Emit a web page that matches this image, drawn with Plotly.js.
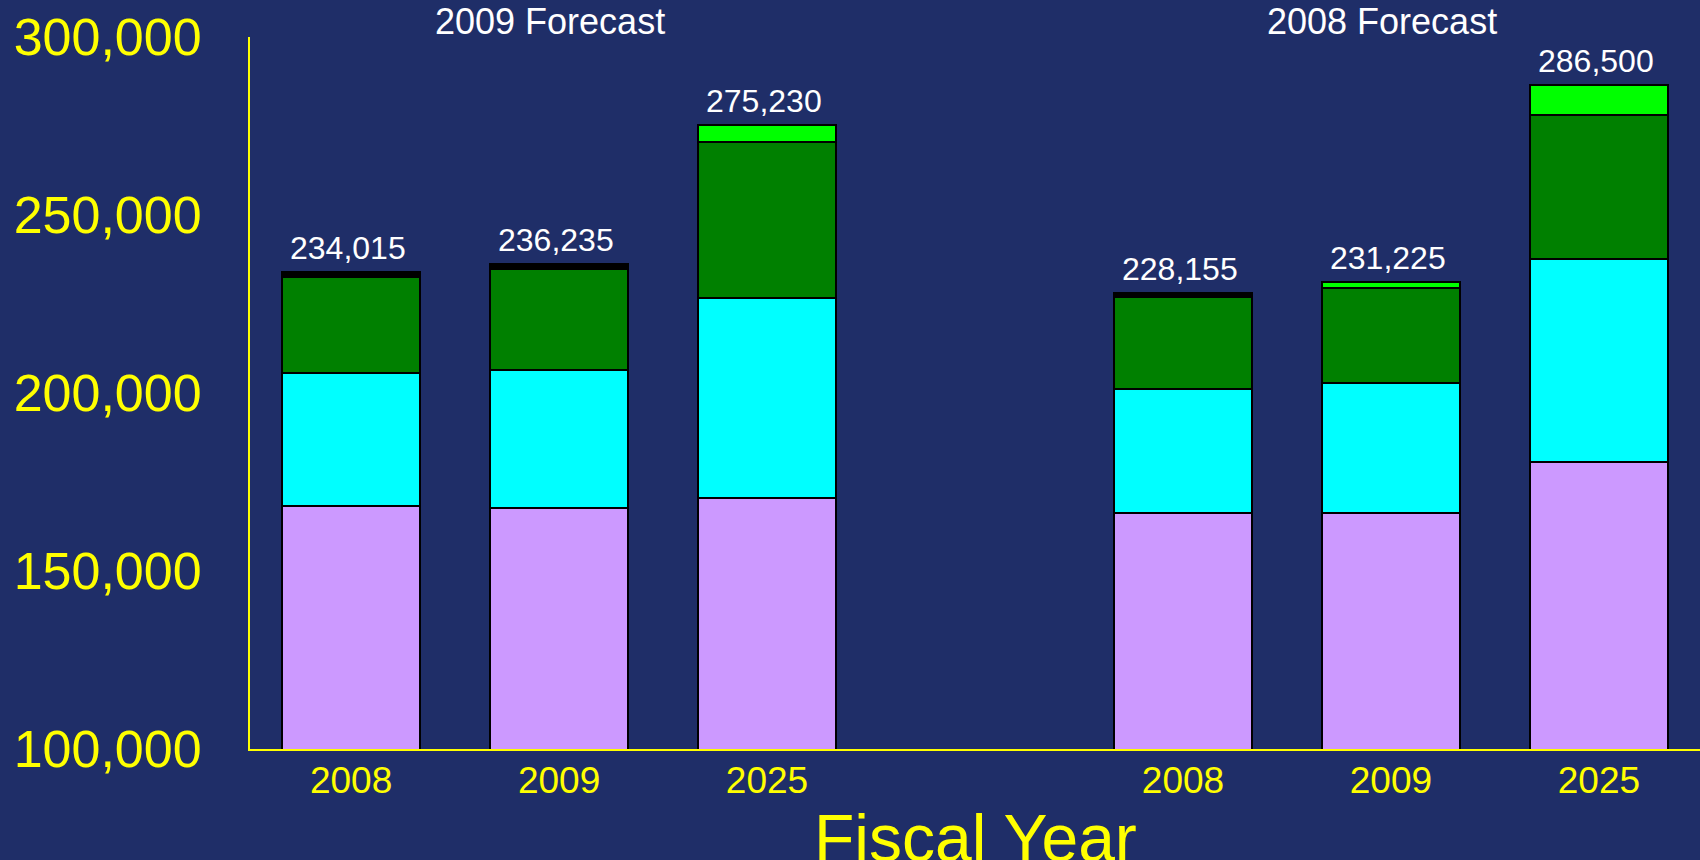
<!DOCTYPE html>
<html>
<head>
<meta charset="utf-8">
<script src="https://cdn.plot.ly/plotly-3.0.1.min.js"></script>
<style>
  html, body { margin: 0; padding: 0; background: #1f2e68; }
  #chart { width: 1700px; height: 860px; }
</style>
</head>
<body>
<div id="chart"></div>
<script>
// ---- data ----
const groups = ['2009 Forecast', '2008 Forecast'];
const years = ['2008', '2009', '2025'];
// stacked segments, in order group 1 (2008, 2009, 2025), group 2 (2008, 2009, 2025)
const segLavender = [168300, 167700, 170400, 166400, 166400, 180700];
const segCyan     = [37300, 38700, 56200, 34600, 36500, 57000];
const segGreen    = [26900, 28300, 43900, 25900, 26600, 40500];
const segTop      = [1515, 1535, 4730, 1255, 1725, 8300];
const totals      = [234015, 236235, 275230, 228155, 231225, 286500];
const yTicks = [100000, 150000, 200000, 250000, 300000];
const xTitle = 'Fiscal Year';

// ---- positions derived from group/year indices ----
const xPos = [];
const xText = [];
groups.forEach((g, gi) => {
  years.forEach((y, yi) => {
    xPos.push(gi * (years.length + 1) + yi);
    xText.push(y);
  });
});
const groupCenters = groups.map((g, gi) => gi * (years.length + 1) + (years.length - 1) / 2);

const FONT = 'Liberation Sans, Arial, sans-serif';
const line = { color: '#000000', width: 2 };

function barTrace(vals, color, name) {
  return { type: 'bar', x: xPos, y: vals, name: name,
           marker: { color: color, line: line }, hoverinfo: 'y' };
}

const topColors = [ '#000000', '#000000', '#00ff00', '#000000', '#00ff00', '#00ff00' ];

const data = [
  barTrace(segLavender, '#cc99ff', 'A'),
  barTrace(segCyan, '#00ffff', 'B'),
  barTrace(segGreen, '#008000', 'C'),
  barTrace(segTop, topColors, 'D')
];

const annotations = [];
totals.forEach((t, i) => {
  annotations.push({
    x: xPos[i], y: t, xref: 'x', yref: 'y',
    text: t.toLocaleString('en-US'),
    showarrow: false, yanchor: 'bottom', yshift: 5, xshift: -3, borderpad: 0,
    font: { family: FONT, size: 32, color: '#ffffff' }
  });
});
groups.forEach((g, gi) => {
  annotations.push({
    x: groupCenters[gi], y: 1.022, xref: 'x', yref: 'paper', xshift: -9,
    text: g, showarrow: false, yanchor: 'middle',
    font: { family: FONT, size: 36, color: '#ffffff' }
  });
});
// axis title placed as an annotation so it can sit partly below the page edge, as in the original
annotations.push({
  x: 0.5, y: -0.072, xref: 'paper', yref: 'paper', xanchor: 'center', yanchor: 'top',
  text: xTitle, showarrow: false, borderpad: 0,
  font: { family: FONT, size: 66, color: '#ffff00' }
});

const layout = {
  width: 1700, height: 860,
  paper_bgcolor: '#1f2e68', plot_bgcolor: '#1f2e68',
  barmode: 'stack', bargap: 0.34, showlegend: false,
  margin: { l: 250, r: 0, t: 37, b: 111 },
  font: { family: FONT, color: '#ffff00' },
  xaxis: {
    range: [-0.486, 6.486], tickmode: 'array', tickvals: xPos, ticktext: xText,
    showgrid: false, zeroline: false, showline: true, linecolor: '#ffff00', linewidth: 2,
    ticks: '', ticklabelstandoff: -2,
    tickfont: { family: FONT, size: 37, color: '#ffff00' },
    automargin: false, fixedrange: true
  },
  yaxis: {
    range: [100000, 300000], tickmode: 'array', tickvals: yTicks,
    tickformat: ',', showgrid: false, zeroline: false,
    showline: true, linecolor: '#ffff00', linewidth: 2,
    ticks: '', ticklabelstandoff: 36,
    tickfont: { family: FONT, size: 52, color: '#ffff00' },
    automargin: false, fixedrange: true
  },
  annotations: annotations
};

Plotly.newPlot('chart', data, layout, { displayModeBar: false, staticPlot: true });
</script>
</body>
</html>
